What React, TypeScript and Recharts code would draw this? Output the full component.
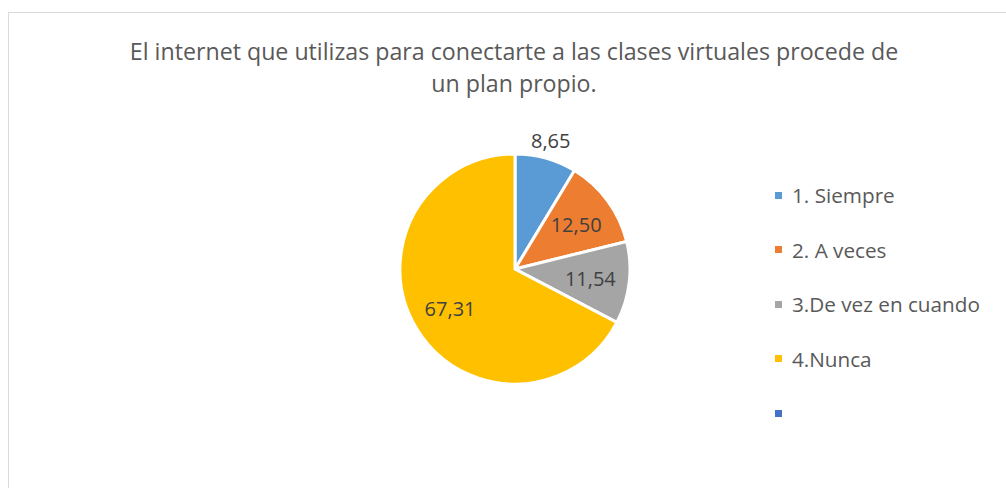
import { PieChart, Pie, Cell } from 'recharts';

const TITLE_LINES = [
  'El internet que utilizas para conectarte a las clases virtuales procede de',
  'un plan propio.',
];

const CATEGORIES = ['1. Siempre', '2. A veces', '3.De vez en cuando', '4.Nunca', ''];
const VALUES = [8.65, 12.5, 11.54, 67.31, 0];
const COLORS = ['#5B9BD5', '#ED7D31', '#A5A5A5', '#FFC000', '#4472C4'];

const FONT = '"Open Sans", sans-serif';
const RAD = Math.PI / 180;

// first slice label sits outside (bestFit), the rest inside
const renderLabel = (props: any) => {
  const { cx, cy, midAngle, outerRadius, value, index } = props;
  if (!value) return null;
  const r = index === 0 ? outerRadius + 18 : outerRadius * 0.66;
  const x = cx + r * Math.cos(-midAngle * RAD);
  const y = cy + r * Math.sin(-midAngle * RAD);
  return (
    <text
      x={x}
      y={y}
      fill="#404040"
      fontSize={20}
      fontFamily={FONT}
      textAnchor="middle"
      dominantBaseline="central"
    >
      {value.toFixed(2).replace('.', ',')}
    </text>
  );
};

export default function App() {
  const data = CATEGORIES.map((name, i) => ({ name, value: VALUES[i] }));

  return (
    <div
      style={{
        position: 'absolute',
        left: 8,
        top: 12,
        width: 997,
        height: 475,
        borderTop: '1px solid #d9d9d9',
        borderLeft: '1px solid #d9d9d9',
        background: '#fff',
        overflow: 'hidden',
      }}
    >
      <div
        style={{
          position: 'absolute',
          left: 5,
          top: 22,
          width: 1000,
          textAlign: 'center',
          fontFamily: FONT,
          fontSize: 23.2,
          lineHeight: '32px',
          color: '#595959',
        }}
      >
        {TITLE_LINES.map((t) => (
          <div key={t}>{t}</div>
        ))}
      </div>
      <div style={{ position: 'absolute', left: 0, top: 0 }}>
        <PieChart width={997} height={475}>
          <Pie
            data={data}
            dataKey="value"
            nameKey="name"
            cx={501}
            cy={251}
            outerRadius={115}
            startAngle={90}
            endAngle={-270}
            stroke="#fff"
            strokeWidth={3}
            label={renderLabel}
            labelLine={false}
            isAnimationActive={false}
          >
            {data.map((d, i) => (
              <Cell key={i} fill={COLORS[i]} />
            ))}
          </Pie>
        </PieChart>
      </div>
      <div style={{ position: 'absolute', left: 766, top: 155 }}>
        {CATEGORIES.map((name, i) => (
          <div
            key={i}
            style={{
              display: 'flex',
              alignItems: 'center',
              height: 54.5,
              fontFamily: FONT,
              fontSize: 20.7,
              color: '#595959',
              whiteSpace: 'nowrap',
            }}
          >
            <span
              style={{
                width: 7,
                height: 7,
                background: COLORS[i],
                marginRight: 10,
                flexShrink: 0,
              }}
            />
            <span>{name}</span>
          </div>
        ))}
      </div>
    </div>
  );
}
